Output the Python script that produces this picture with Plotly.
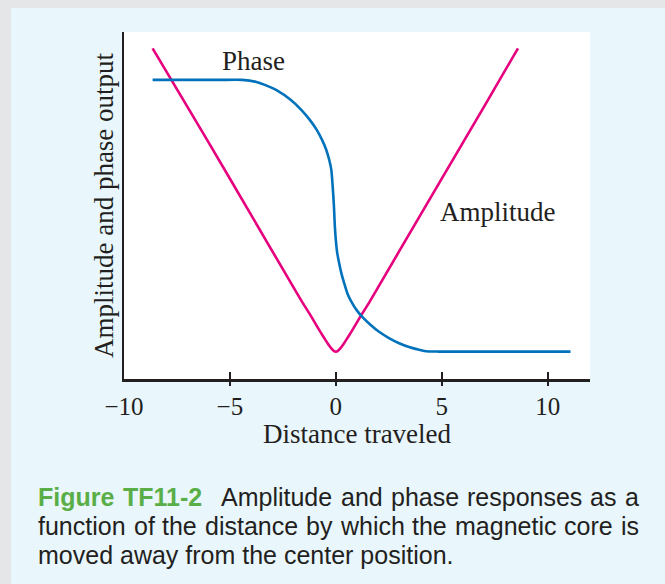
import plotly.graph_objects as go

# ---------------- data ----------------
amp_x = [-8.65, -6.0, -4.0, -2.66, -1.6, -1.2, -0.9, -0.7, -0.5, -0.35, -0.2, -0.1, 0.0,
         0.1, 0.2, 0.35, 0.5, 0.7, 0.9, 1.2, 1.6, 3.0, 4.87, 7.0, 8.6]
amp_y = [9.53, 6.81, 4.73, 3.33, 2.23, 1.84, 1.53, 1.33, 1.135, 0.995, 0.873, 0.813, 0.79,
         0.813, 0.873, 0.995, 1.135, 1.33, 1.53, 1.84, 2.23, 3.69, 5.64, 7.85, 9.53]

phase_x = [-8.65, -6.5, -5.4, -4.42, -3.75, -3.32, -2.82, -2.12, -1.62, -1.22, -0.90, -0.65,
           -0.45, -0.31, -0.21, -0.17, -0.12, -0.08, -0.05, 0.00, 0.06, 0.16, 0.27, 0.39,
           0.55, 0.78, 1.00, 1.25, 1.62, 2.04, 2.51, 2.99, 3.46, 3.93, 4.25, 4.87, 7.0, 11.08]
phase_y = [8.62, 8.62, 8.62, 8.62, 8.56, 8.47, 8.33, 8.04, 7.75, 7.46, 7.18, 6.89,
           6.60, 6.31, 6.02, 5.73, 5.30, 4.87, 4.44, 4.01, 3.66, 3.33, 3.03, 2.77,
           2.46, 2.18, 1.97, 1.79, 1.57, 1.36, 1.18, 1.03, 0.92, 0.84, 0.80, 0.79, 0.79, 0.79]

x_tickvals = [-10, -5, 0, 5, 10]
x_ticktext = ["\u221210", "\u22125", "0", "5", "10"]
x_title = "Distance traveled"
y_title = "Amplitude and phase output"
label_phase = "Phase"
label_amp = "Amplitude"

caption_lines = [
    [("Figure", True), ("TF11-2", True), ("Amplitude", False), ("and", False), ("phase", False),
     ("responses", False), ("as", False), ("a", False)],
    [("function", False), ("of", False), ("the", False), ("distance", False), ("by", False),
     ("which", False), ("the", False), ("magnetic", False), ("core", False), ("is", False)],
    [("moved away from the center position.", False)],
]

# ---------------- style ----------------
W, H = 665, 584
ML, MR, MT, MB = 124, 75, 32, 205
PW, PH = W - ML - MR, H - MT - MB
INK = "#231f20"
MAGENTA = "#e6007e"
BLUE = "#0072bc"
PANEL = "#e9f6fc"
GRAY = "#e5e6e7"
GREEN = "#5aae47"
SERIF = "Liberation Serif, Times New Roman, serif"
SANS = "Liberation Sans, Arial, Helvetica, sans-serif"

fig = go.Figure()
fig.add_trace(go.Scatter(x=amp_x, y=amp_y, mode="lines",
                         line=dict(color=MAGENTA, width=2.6, shape="spline", smoothing=0.5),
                         hoverinfo="skip", showlegend=False))
fig.add_trace(go.Scatter(x=phase_x, y=phase_y, mode="lines", xaxis="x2",
                         line=dict(color=BLUE, width=2.6, shape="spline", smoothing=0.6),
                         hoverinfo="skip", showlegend=False))

axis_common = dict(range=[-10, 12], showgrid=False, zeroline=False, fixedrange=True)
fig.update_layout(
    width=W, height=H,
    margin=dict(l=ML, r=MR, t=MT, b=MB, pad=0),
    paper_bgcolor=PANEL, plot_bgcolor="white",
    xaxis=dict(**axis_common, showline=True, linecolor=INK, linewidth=2.5,
               tickmode="array", tickvals=x_tickvals, ticktext=x_ticktext,
               ticks="inside", ticklen=7, tickwidth=2.2, tickcolor=INK,
               tickfont=dict(family=SERIF, size=25, color=INK), ticklabelstandoff=3,
               title=dict(text=x_title, font=dict(family=SERIF, size=27, color=INK), standoff=0)),
    xaxis2=dict(**axis_common, overlaying="x", side="bottom", anchor="y", showline=False,
                tickmode="array", tickvals=x_tickvals[1:], ticks="outside", ticklen=6,
                tickwidth=2.2, tickcolor=INK, showticklabels=False),
    yaxis=dict(range=[0, 10], showgrid=False, zeroline=False, fixedrange=True,
               showline=True, linecolor=INK, linewidth=2.5, ticks="", showticklabels=False,
               title=dict(text=y_title, font=dict(family=SERIF, size=27, color=INK), standoff=0)),
)

# curve labels
fig.add_annotation(x=-3.88, y=9.16, xref="x", yref="y", text=label_phase, showarrow=False,
                   font=dict(family=SERIF, size=27, color=INK), xanchor="center", yanchor="middle")
fig.add_annotation(x=7.65, y=4.80, xref="x", yref="y", text=label_amp, showarrow=False,
                   font=dict(family=SERIF, size=27, color=INK), xanchor="center", yanchor="middle")

# gray frame strips (outside the light-blue panel)
fig.add_shape(type="rect", xref="paper", yref="paper", x0=-ML / PW - 0.05, x1=(11 - ML) / PW,
              y0=-1.0, y1=1.5, fillcolor=GRAY, line_width=0, layer="above")
fig.add_shape(type="rect", xref="paper", yref="paper", x0=-ML / PW - 0.05, x1=(W - ML) / PW + 0.05,
              y0=(PH + MT - 8) / PH, y1=1.5, fillcolor=GRAY, line_width=0, layer="above")

# caption, justified word by word
AR = {'a': .556, 'b': .556, 'c': .5, 'd': .556, 'e': .556, 'f': .278, 'g': .556, 'h': .556, 'i': .222,
      'k': .5, 'l': .222, 'm': .833, 'n': .556, 'o': .556, 'p': .556, 'r': .333, 's': .5, 't': .278,
      'u': .556, 'v': .5, 'w': .722, 'y': .5, 'A': .667, '.': .278, ' ': .278}
ARB = {'F': .611, 'i': .278, 'g': .611, 'u': .611, 'r': .389, 'e': .556, 'T': .611, '1': .556,
       '-': .333, '2': .556}
CAP_SIZE = 25
LEFT, RIGHT = 36, 637
baselines = [504, 533, 561.5]


def wlen(word, bold):
    tbl = ARB if bold else AR
    return sum(tbl.get(ch, .55) for ch in word) * CAP_SIZE


for li, words in enumerate(caption_lines):
    py = baselines[li] - 7
    ypaper = (MT + PH - py) / PH
    if len(words) == 1:
        positions = [LEFT]
    else:
        widths = [wlen(w, b) for w, b in words]
        extra = [0] * (len(words) - 1)
        if li == 0:
            extra[1] = 10
        gap = (RIGHT - LEFT - sum(widths) - sum(extra)) / (len(words) - 1)
        positions = []
        x = LEFT
        for k, wd in enumerate(widths):
            positions.append(x)
            if k < len(extra):
                x += wd + gap + extra[k]
    for (w, b), px in zip(words, positions):
        txt = f"<b>{w}</b>" if b else w
        fig.add_annotation(x=(px - ML) / PW, y=ypaper, xref="paper", yref="paper", text=txt,
                           showarrow=False, xanchor="left", yanchor="middle",
                           font=dict(family=SANS, size=CAP_SIZE, color=GREEN if b else INK))

fig.write_html("out.html", config={"displayModeBar": False, "staticPlot": True},
               post_script="document.body.style.margin='0';document.body.style.overflow='hidden';")
